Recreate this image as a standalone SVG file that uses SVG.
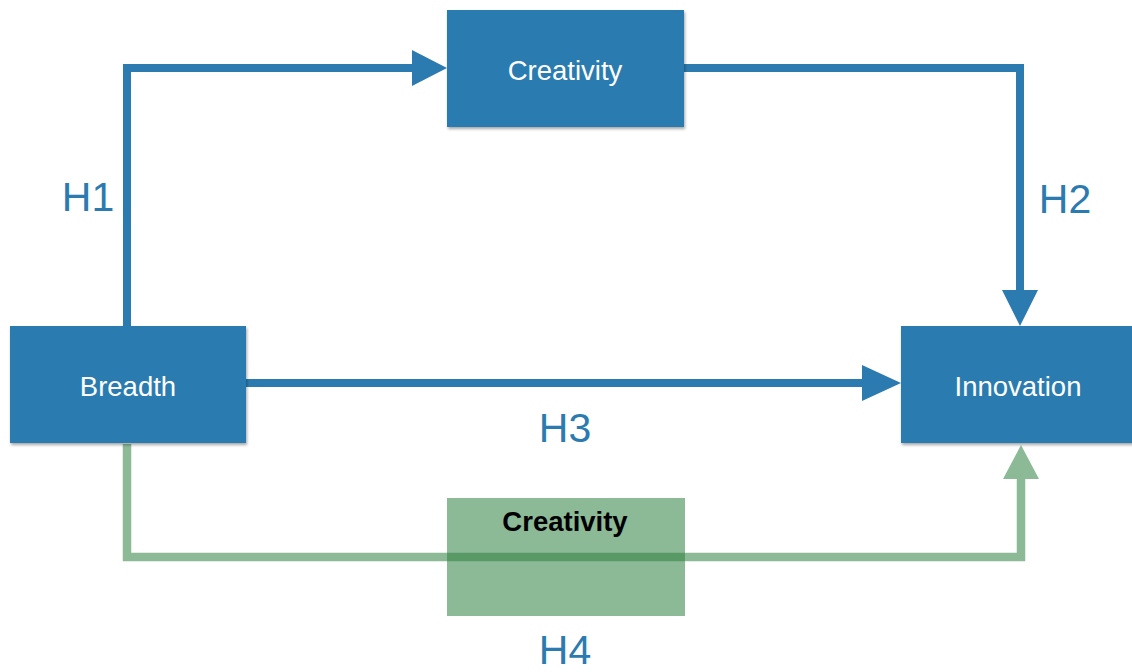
<svg xmlns="http://www.w3.org/2000/svg" width="1132" height="672" viewBox="0 0 1132 672">
  <style>
    .box { fill: #2c7bb0; }
    .lbl { font-family: "Liberation Sans", Arial, sans-serif; font-size: 27.5px; fill: #ffffff; text-anchor: middle; dominant-baseline: central; }
    .hyp { font-family: "Liberation Sans", Arial, sans-serif; font-size: 41px; fill: #2c7bb0; text-anchor: middle; }
    .blue { stroke: #2c7bb0; stroke-width: 8; fill: none; }
    .green { stroke: #8cb996; stroke-width: 8.5; fill: none; }
  </style>
  <defs>
    <filter id="shadow" x="-10%" y="-10%" width="130%" height="130%">
      <feDropShadow dx="1" dy="2" stdDeviation="1.5" flood-color="#000" flood-opacity="0.35"/>
    </filter>
  </defs>
  <rect width="1132" height="672" fill="#ffffff"/>

  <g id="connectors">
    <!-- H1: Breadth -> Creativity -->
    <polyline class="blue" points="127,326 127,68 414,68"/>
    <polygon fill="#2c7bb0" points="412,50 447,68 412,86"/>
    <!-- H2: Creativity -> Innovation -->
    <polyline class="blue" points="684,68 1020,68 1020,292"/>
    <polygon fill="#2c7bb0" points="1002,290 1038,290 1020,326"/>
    <!-- H3: Breadth -> Innovation -->
    <line class="blue" x1="246" y1="383" x2="864" y2="383"/>
    <polygon fill="#2c7bb0" points="862,365 901,383 862,401"/>
    <!-- H4: Breadth -> Innovation through Creativity -->
    <polyline class="green" points="127,444 127,557 1021,557 1021,478"/>
    <polygon fill="#8cb996" points="1003,479 1039,479 1021,445"/>
  </g>

  <g id="creativity">
    <rect class="box" x="447" y="10" width="237" height="117" filter="url(#shadow)"/>
    <text class="lbl" x="565" y="70">Creativity</text>
  </g>

  <g id="breadth">
    <rect class="box" x="10" y="326" width="236" height="117" filter="url(#shadow)"/>
    <text class="lbl" x="128" y="386">Breadth</text>
  </g>

  <g id="innovation">
    <rect class="box" x="901" y="326" width="234" height="117" filter="url(#shadow)"/>
    <text class="lbl" x="1018" y="386">Innovation</text>
  </g>

  <g id="creativity-mediator">
    <!-- translucent box so the H4 path shows through darker -->
    <rect x="447" y="498" width="238" height="118" fill="#2e8040" fill-opacity="0.55"/>
    <text x="565" y="531" font-family="'Liberation Sans', Arial, sans-serif" font-size="27.5" font-weight="bold" fill="#000000" text-anchor="middle">Creativity</text>
  </g>

  <g id="hypotheses">
    <text class="hyp" x="88" y="211">H1</text>
    <text class="hyp" x="1065" y="213">H2</text>
    <text class="hyp" x="565" y="442">H3</text>
    <text class="hyp" x="565" y="664">H4</text>
  </g>
</svg>
